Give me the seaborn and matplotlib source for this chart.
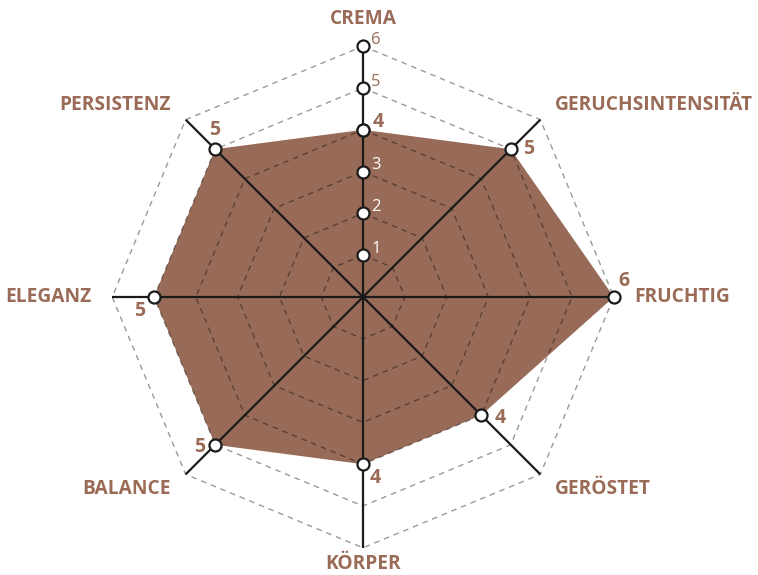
import numpy as np
import pandas as pd
import matplotlib
matplotlib.use("Agg")
import matplotlib.pyplot as plt
import seaborn as sns

# axes clockwise starting at the top
categories = ["CREMA", "GERUCHSINTENSITÄT", "FRUCHTIG", "GERÖSTET",
              "KÖRPER", "BALANCE", "ELEGANZ", "PERSISTENZ"]
values = [4, 5, 6, 4, 4, 5, 5, 5]
scale_ticks = [1, 2, 3, 4, 5, 6]

BROWN = "#976b57"
TEXT = "#9a6b56"

sns.set_theme(style="white")
plt.rcParams["font.family"] = ["Open Sans", "DejaVu Sans"]

n = len(categories)
angles = np.pi / 2 - np.arange(n) * 2 * np.pi / n
rmax = max(scale_ticks)

df = pd.DataFrame({
    "cat": categories,
    "value": values,
    "x": np.array(values) * np.cos(angles),
    "y": np.array(values) * np.sin(angles),
})

fig = plt.figure(figsize=(7.58, 5.75), dpi=100)
ax = fig.add_axes([0, 0, 1, 1])
unit = 41.8
ax.set_xlim(-363 / unit, (758 - 363) / unit)
ax.set_ylim(-(575 - 297) / unit, 297 / unit)
ax.set_aspect("equal")
ax.axis("off")

# filled polygon
ax.fill(df["x"], df["y"], color=BROWN, lw=0, zorder=1)

# dashed octagon grid
for lv in scale_ticks:
    gx = lv * np.cos(np.append(angles, angles[0]))
    gy = lv * np.sin(np.append(angles, angles[0]))
    ax.plot(gx, gy, color="black", alpha=0.4, lw=1, ls=(0, (4, 3.5)), zorder=2)

# spokes
for a in angles:
    ax.plot([0, rmax * np.cos(a)], [0, rmax * np.sin(a)], color="#1a1a1a",
            lw=1.6, zorder=3, solid_capstyle="butt")

# scale markers on the top axis
scale_df = pd.DataFrame({"x": [0] * len(scale_ticks), "y": scale_ticks})
sns.scatterplot(data=scale_df, x="x", y="y", ax=ax, s=75, color="white",
                edgecolor="#1a1a1a", linewidth=1.6, zorder=4, legend=False)
for t in scale_ticks:
    if t == values[0]:
        continue
    col = "white" if t < values[0] else TEXT
    ax.annotate(str(t), (0, t), xytext=(6, 4.5), textcoords="offset points",
                ha="left", va="center", fontsize=12, color=col, zorder=5)

# data markers
sns.scatterplot(data=df, x="x", y="y", ax=ax, s=75, color="white",
                edgecolor="#1a1a1a", linewidth=1.6, zorder=4, legend=False)

# value labels (offsets in pixels)
val_offsets = [(15, 8), (18, 0), (10, 16), (19, -3),
               (12, -14), (-16, -2), (-14, -14), (-1, 19)]
for (x, y, v), (dx, dy) in zip(df[["x", "y", "value"]].values, val_offsets):
    ax.annotate(str(int(v)), (x, y), xytext=(dx * 0.72, dy * 0.72),
                textcoords="offset points", ha="center", va="center",
                fontsize=14, fontweight="bold", color=TEXT, zorder=5)

# category labels
lab_r = 6.5
for cat, a in zip(categories, angles):
    lx, ly = lab_r * np.cos(a), lab_r * np.sin(a)
    ha = "left" if lx > 0.1 else ("right" if lx < -0.1 else "center")
    if abs(lx) < 0.1:
        ly += 0.15 if ly > 0 else 0.12
    ax.text(lx, ly, cat, ha=ha, va="center", fontsize=13.8,
            fontweight="bold", color=TEXT)

fig.savefig("out.png", dpi=100)
